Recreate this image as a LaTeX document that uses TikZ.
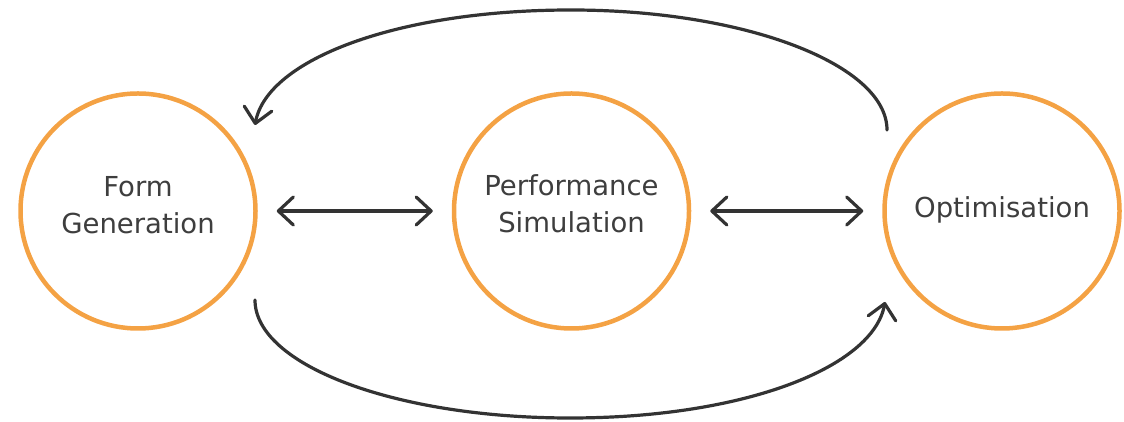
\documentclass[tikz,border=0pt]{standalone}
\usepackage{fontspec}
\setmainfont{DejaVu Sans}
\usetikzlibrary{arrows.meta}

\definecolor{ringorange}{HTML}{F4A244}
\definecolor{inkdark}{HTML}{333333}
\definecolor{textgray}{HTML}{3E3E3E}

\tikzset{
  barb/.tip={Straight Barb[length=15pt, width=28pt, round]},
  ring/.style={circle, draw=ringorange, line width=4.5pt, minimum size=235pt, inner sep=0pt},
  lbl/.style={align=center, text=textgray, font=\fontsize{27.5}{37}\selectfont},
  conn/.style={draw=inkdark, line width=3.2pt, line cap=round, -barb},
  dbl/.style={draw=inkdark, line width=3.2pt, line cap=round, barb-barb,
              shorten <=19pt, shorten >=19pt},
}

\begin{document}
\begin{tikzpicture}[x=1pt, y=1pt]
  \useasboundingbox (0,0) rectangle (1124,422);

  % the three stages
  \node[ring] (form) at (138,211)   {};
  \node[ring] (perf) at (571.5,211) {};
  \node[ring] (opt)  at (1002,211)  {};

  \node[lbl] (formtxt) at ([yshift=6pt]form.center)   {Form\\Generation};
  \node[lbl] (perftxt) at ([yshift=7pt]perf.center)   {Performance\\Simulation};
  \node[lbl] (opttxt)  at ([yshift=1pt]opt.center)    {Optimisation};

  % two-way links between neighbouring stages
  \draw[dbl] (form) -- (perf);
  \draw[dbl] (perf) -- (opt);

  % feedback loop over the top, forward loop underneath
  \coordinate (ts) at ([shift={(-115,81)}]opt.center);
  \coordinate (te) at ([shift={(117,86)}]form.center);
  \coordinate (topmid) at (571,412);
  \draw[conn] (ts) .. controls +(0,65) and +(175,0) .. (topmid)
                   .. controls +(-175,0) and +(12,65) .. (te);

  \coordinate (bs) at ([shift={(117,-89)}]form.center);
  \coordinate (be) at ([shift={(-117,-91)}]opt.center);
  \coordinate (botmid) at (570,4);
  \draw[conn] (bs) .. controls +(0,-65) and +(-175,0) .. (botmid)
                   .. controls +(175,0) and +(-12,-65) .. (be);
\end{tikzpicture}
\end{document}
